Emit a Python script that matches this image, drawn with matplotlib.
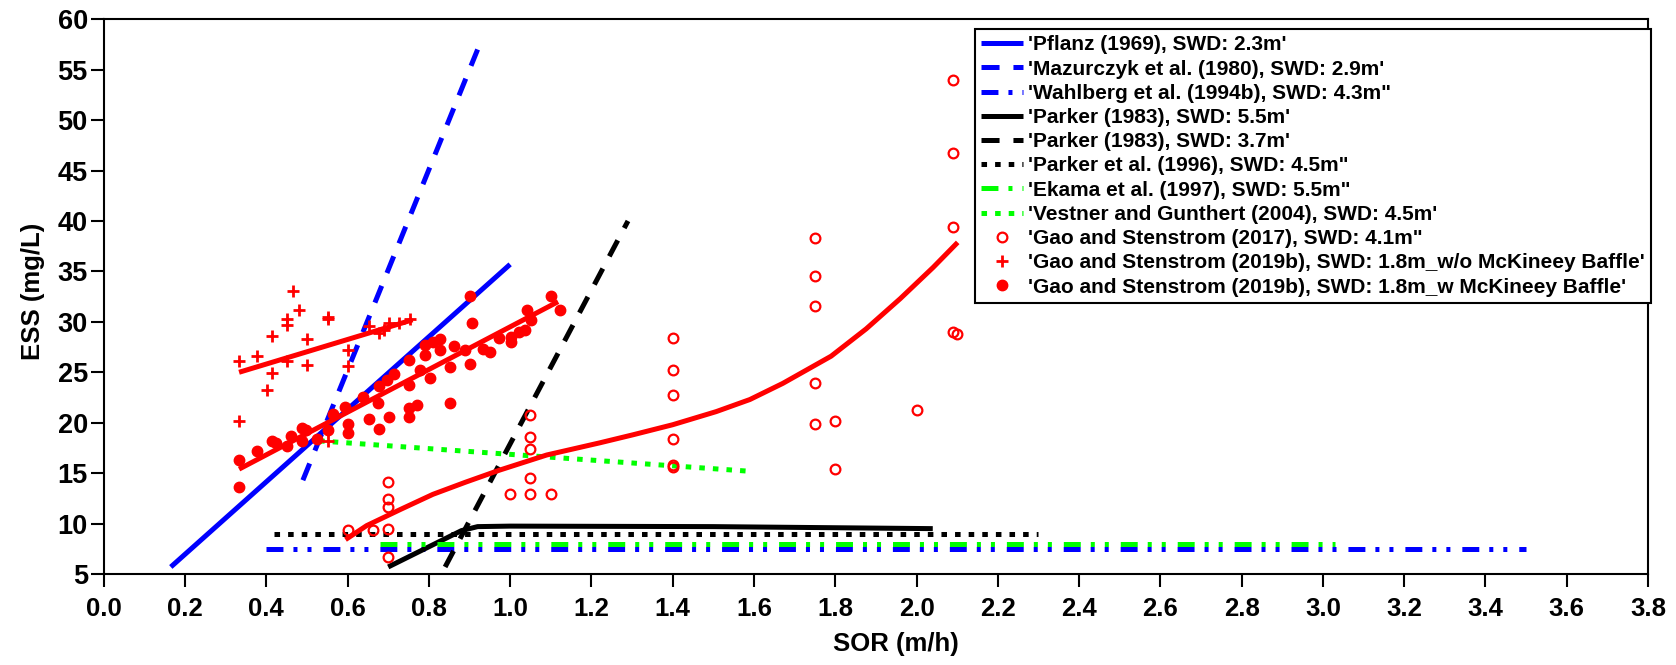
import matplotlib
matplotlib.use('Agg')
import matplotlib.pyplot as plt
import numpy as np

plt.rcParams['font.family'] = ['Liberation Sans', 'DejaVu Sans']
plt.rcParams['font.weight'] = 'bold'
plt.rcParams['lines.scale_dashes'] = False

# --- reference lines from the literature (SOR, ESS) ---
pflanz_x, pflanz_y = [0.165, 1.0], [5.7, 35.7]
mazur_x, mazur_y = [0.49, 0.92], [14.3, 57.0]
wahlberg_x, wahlberg_y = [0.40, 3.50], [7.5, 7.5]
parker55_x = [0.70, 0.88, 0.92, 1.0, 1.5, 2.04]
parker55_y = [5.7, 9.3, 9.7, 9.75, 9.7, 9.5]
parker37_x, parker37_y = [0.84, 1.29], [5.7, 40.0]
parker96_x, parker96_y = [0.42, 2.30], [9.0, 9.0]
ekama_x, ekama_y = [0.68, 3.03], [8.0, 8.0]
vestner_x, vestner_y = [0.53, 1.585], [18.2, 15.2]

# --- Gao and Stenstrom (2017) ---
gao17_x = [0.60, 0.663, 0.70, 0.70, 0.70, 0.70, 0.70, 1.00, 1.05, 1.05, 1.05,
           1.05, 1.05, 1.10, 1.40, 1.40, 1.40, 1.40, 1.40, 1.40, 1.75, 1.75,
           1.75, 1.75, 1.75, 1.80, 1.80, 2.00, 2.09, 2.09, 2.09, 2.09, 2.10]
gao17_y = [9.4, 9.4, 14.1, 12.4, 11.6, 9.5, 6.7, 12.9, 20.8, 18.6, 17.4,
           14.5, 12.9, 12.9, 28.4, 25.2, 22.7, 18.4, 15.8, 15.6, 38.3, 34.5,
           31.6, 23.9, 19.9, 20.2, 15.4, 21.3, 54.0, 46.7, 39.4, 29.0, 28.8]
gao17_fit_x = [0.60, 0.647, 0.73, 0.81, 0.89, 0.974, 1.09, 1.22, 1.302, 1.40,
               1.507, 1.59, 1.671, 1.79, 1.876, 1.96, 2.041, 2.097]
gao17_fit_y = [8.55, 9.8, 11.4, 12.9, 14.1, 15.3, 16.8, 18.0, 18.8, 19.8,
               21.1, 22.3, 23.9, 26.6, 29.3, 32.3, 35.4, 37.7]

# --- Gao and Stenstrom (2019b), without baffle ---
wo_x = [0.333, 0.333, 0.378, 0.415, 0.415, 0.401, 0.465, 0.451, 0.451, 0.451,
        0.481, 0.501, 0.501, 0.551, 0.551, 0.602, 0.602, 0.551, 0.652, 0.677,
        0.702, 0.727, 0.753, 0.690]
wo_y = [26.1, 20.2, 26.6, 28.6, 24.9, 23.2, 33.1, 30.3, 29.7, 26.1,
        31.2, 28.3, 25.7, 30.5, 30.3, 27.2, 25.6, 18.2, 29.6, 28.9,
        29.9, 29.9, 30.3, 29.2]
wo_fit_x, wo_fit_y = [0.333, 0.76], [25.0, 30.2]

# --- Gao and Stenstrom (2019b), with baffle ---
w_x = [0.333, 0.333, 0.378, 0.415, 0.424, 0.451, 0.462, 0.489, 0.497, 0.489,
       0.525, 0.551, 0.565, 0.593, 0.602, 0.602, 0.638, 0.652, 0.675, 0.677,
       0.677, 0.696, 0.702, 0.715, 0.751, 0.751, 0.751, 0.751, 0.771, 0.778,
       0.791, 0.791, 0.803, 0.809, 0.827, 0.827, 0.852, 0.852, 0.861, 0.890,
       0.902, 0.902, 0.907, 0.933, 0.951, 0.973, 1.001, 1.001, 1.022, 1.036,
       1.042, 1.052, 1.101, 1.122]
w_y = [16.3, 13.6, 17.2, 18.2, 18.0, 17.7, 18.7, 19.5, 19.3, 18.2,
       18.4, 19.3, 20.9, 21.6, 19.9, 19.0, 22.5, 20.4, 22.0, 19.4,
       23.6, 24.2, 20.6, 24.8, 26.2, 23.7, 21.5, 20.6, 21.8, 25.2,
       27.7, 26.7, 24.4, 28.0, 28.3, 27.2, 25.5, 22.0, 27.6, 27.2,
       32.6, 25.8, 29.9, 27.3, 27.0, 28.4, 28.5, 28.0, 29.0, 29.2,
       31.2, 30.2, 32.6, 31.2]
w_fit_x, w_fit_y = [0.333, 1.118], [15.4, 32.0]

BLUE, GREEN, RED = '#0000ff', '#00ff00', '#ff0000'
LW = 3.6
dashed = (0, (13, 10))
dash_dot_dot = (0, (12.2, 7.2, 2.9, 7.2, 2.9, 8.6))
dotted = (0, (4.0, 5.8))

fig = plt.figure(figsize=(16.76, 6.65), dpi=100)
ax = fig.add_axes([0.0619, 0.1368, 0.9214, 0.8343])

ax.plot(pflanz_x, pflanz_y, color=BLUE, lw=LW, solid_capstyle='butt',
        label="'Pflanz (1969), SWD: 2.3m'")
ax.plot(mazur_x, mazur_y, color=BLUE, lw=LW, ls=dashed,
        label="'Mazurczyk et al. (1980), SWD: 2.9m'")
ax.plot(wahlberg_x, wahlberg_y, color=BLUE, lw=LW, ls=dash_dot_dot,
        label="'Wahlberg et al. (1994b), SWD: 4.3m\"")
ax.plot(parker55_x, parker55_y, color='black', lw=LW, solid_capstyle='butt',
        label="'Parker (1983), SWD: 5.5m'")
ax.plot(parker37_x, parker37_y, color='black', lw=LW, ls=dashed,
        label="'Parker (1983), SWD: 3.7m'")
ax.plot(parker96_x, parker96_y, color='black', lw=LW, ls=dotted,
        label="'Parker et al. (1996), SWD: 4.5m\"")
ax.plot(ekama_x, ekama_y, color=GREEN, lw=LW, ls=dash_dot_dot,
        label="'Ekama et al. (1997), SWD: 5.5m\"")
ax.plot(vestner_x, vestner_y, color=GREEN, lw=LW, ls=dotted,
        label="'Vestner and Gunthert (2004), SWD: 4.5m'")

ax.plot(gao17_x, gao17_y, ls='none', marker='o', ms=7, mfc='none', mec=RED,
        mew=1.6, label="'Gao and Stenstrom (2017), SWD: 4.1m\"")
ax.plot(wo_x, wo_y, ls='none', marker='+', ms=9, mec=RED, mew=2.0,
        label="'Gao and Stenstrom (2019b), SWD: 1.8m_w/o McKineey Baffle'")
ax.plot(w_x, w_y, ls='none', marker='o', ms=7.5, mfc=RED, mec=RED,
        label="'Gao and Stenstrom (2019b), SWD: 1.8m_w McKineey Baffle'")

# fitted trends
ax.plot(gao17_fit_x, gao17_fit_y, color=RED, lw=LW, solid_joinstyle='round')
ax.plot(wo_fit_x, wo_fit_y, color=RED, lw=LW, solid_capstyle='butt')
ax.plot(w_fit_x, w_fit_y, color=RED, lw=LW, solid_capstyle='butt')

ax.set_xlim(0, 3.8)
ax.set_ylim(5, 60)
ax.set_xticks(np.arange(0, 3.81, 0.2))
ax.set_xticklabels([f'{v:.1f}' for v in np.arange(0, 3.81, 0.2)])
ax.set_yticks(np.arange(5, 61, 5))
ax.tick_params(direction='out', length=9.5, width=1.5, labelsize=18.5)
ax.tick_params(axis='x', pad=7)
ax.tick_params(axis='y', pad=2, labelsize=19.5)
for s in ax.spines.values():
    s.set_linewidth(1.5)

ax.set_xlabel('SOR (m/h)', fontsize=18.5, fontweight='bold')
ax.set_ylabel('ESS (mg/L)', fontsize=18.5, fontweight='bold')
ax.xaxis.set_label_coords(0.513, -0.104)
ax.yaxis.set_label_coords(-0.038, 0.51)

leg = ax.legend(loc='upper right', bbox_to_anchor=(1.002, 0.982),
                borderaxespad=0, fancybox=False, framealpha=1,
                edgecolor='black', fontsize=15, numpoints=1,
                handlelength=2.0, handletextpad=0.25, labelspacing=0.25,
                borderpad=0.3)
leg.get_frame().set_linewidth(1.5)

fig.savefig('out.png', dpi=100)
